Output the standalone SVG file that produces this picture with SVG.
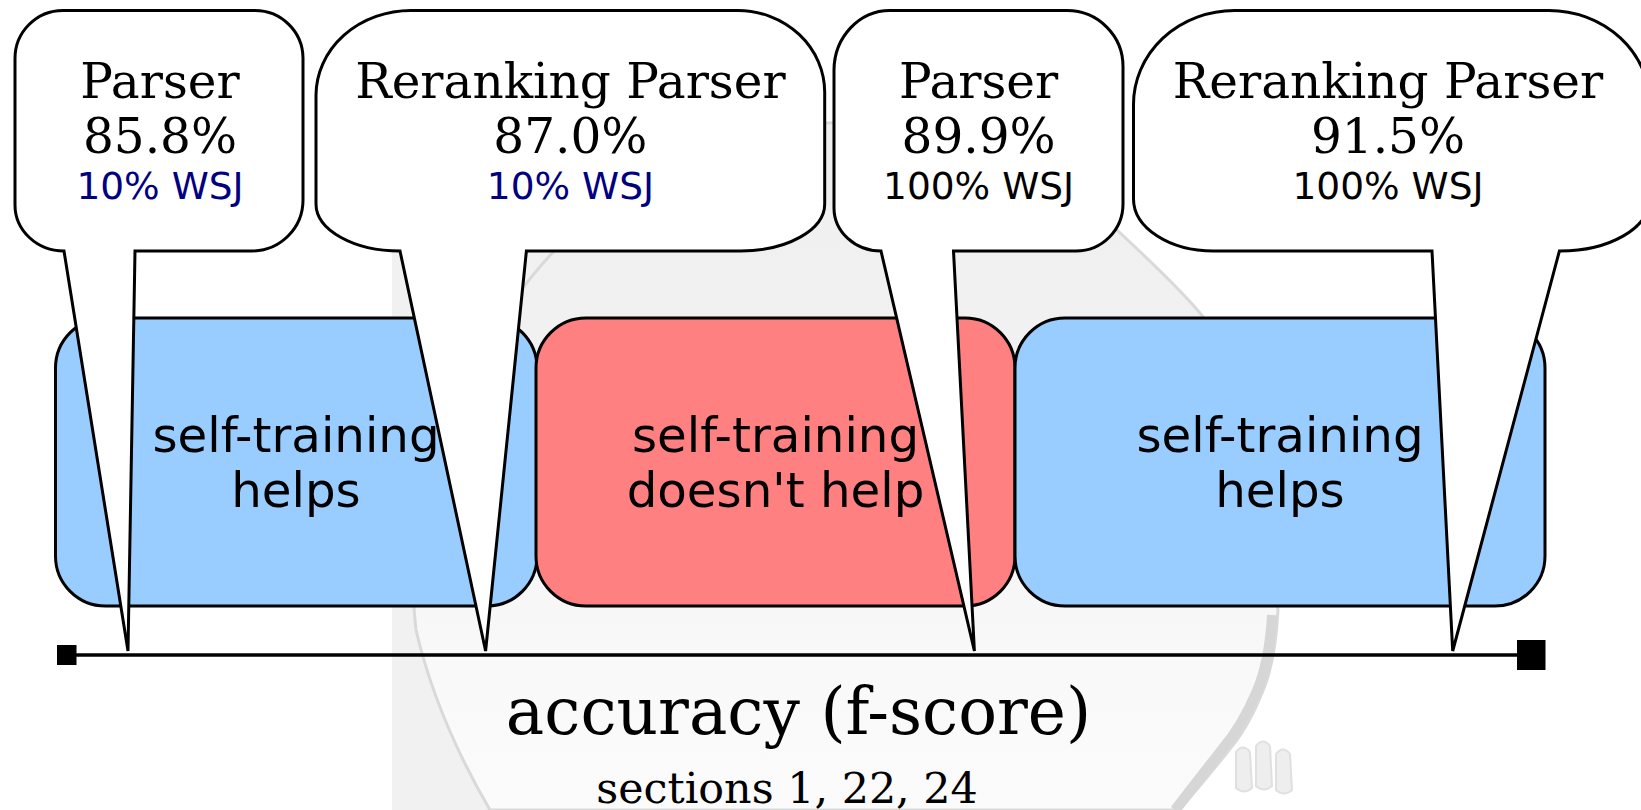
<svg xmlns="http://www.w3.org/2000/svg" width="1641" height="810" viewBox="0 0 1641 810">
  <defs>
    <style>
      .serif { font-family: "DejaVu Serif", "Liberation Serif", serif; fill: #000; text-anchor: middle; }
      .sans { font-family: "DejaVu Sans", "Liberation Sans", sans-serif; fill: #000; text-anchor: middle; }
      .callout { fill: #fff; stroke: #000; stroke-width: 3; stroke-linejoin: miter; }
      .region { stroke: #000; stroke-width: 3; }
      .helps { fill: #99ccff; }
      .nohelp { fill: #ff8080; }
      .head { font-size: 48.5px; }
      .sub { font-size: 37.5px; }
      .small-data { fill: #000080; }
      .band { font-size: 48.3px; }
    </style>
    <linearGradient id="discFill" x1="0" y1="0" x2="0" y2="1">
      <stop offset="0" stop-color="#efefef"/>
      <stop offset="0.45" stop-color="#f2f2f2"/>
      <stop offset="0.8" stop-color="#f9f9f9"/>
      <stop offset="1" stop-color="#fbfbfb"/>
    </linearGradient>
    <marker id="endSmall" markerUnits="userSpaceOnUse" markerWidth="20" markerHeight="20" refX="10" refY="10" orient="auto">
      <rect x="0" y="0" width="20" height="20" fill="#000"/>
    </marker>
    <marker id="endLarge" markerUnits="userSpaceOnUse" markerWidth="29" markerHeight="30" refX="14.5" refY="15" orient="auto">
      <rect x="0" y="0" width="29" height="30" fill="#000"/>
    </marker>
  </defs>

  <rect width="1641" height="810" fill="#fff"/>

  <!-- faded backdrop photo -->
  <g id="backdrop">
    <rect x="392" y="251" width="420" height="559" fill="#f1f1f1"/>
    <path d="M 490,810 C 455,750 430,690 416,630 C 395,470 520,140 826,123 C 960,116 1060,170 1117,230 C 1160,270 1190,300 1204,318 C 1245,400 1272,520 1278,610 C 1276,650 1270,675 1262,693 C 1252,718 1242,735 1229,750 C 1212,772 1196,790 1180,810 Z"
          fill="url(#discFill)" stroke="#d9d9d9" stroke-width="3"/>
    <!-- darker inner band along the lower right edge -->
    <path d="M 1272,615 C 1270,650 1264,675 1256,693 C 1246,716 1236,733 1223,748 C 1206,770 1190,790 1175,810"
          fill="none" stroke="#d6d6d6" stroke-width="10"/>
    <g fill="#eeeeee" stroke="#e0e0e0" stroke-width="2">
      <path d="M 1236,752 q 7,-9 14,0 l 2,36 q -8,7 -16,0 Z"/>
      <path d="M 1256,746 q 7,-9 14,0 l 2,40 q -8,7 -16,0 Z"/>
      <path d="M 1276,754 q 7,-9 14,0 l 2,36 q -8,7 -16,0 Z"/>
    </g>
  </g>

  <!-- outcome regions along the score axis -->
  <g id="region-helps-low">
    <rect class="region helps" x="55.5" y="318" width="481.5" height="288" rx="50" ry="50"/>
    <text class="sans band" x="296" y="452">self-training</text>
    <text class="sans band" x="296" y="507">helps</text>
  </g>
  <g id="region-no-help">
    <rect class="region nohelp" x="536" y="318" width="479" height="288" rx="50" ry="50"/>
    <text class="sans band" x="775.5" y="452">self-training</text>
    <text class="sans band" x="775.5" y="507">doesn't help</text>
  </g>
  <g id="region-helps-high">
    <rect class="region helps" x="1015" y="318" width="530" height="288" rx="50" ry="50"/>
    <text class="sans band" x="1280" y="452">self-training</text>
    <text class="sans band" x="1280" y="507">helps</text>
  </g>

  <!-- score axis -->
  <g id="connectors">
    <line x1="66.5" y1="655" x2="1531" y2="655" stroke="#000" stroke-width="3.5"
          marker-start="url(#endSmall)" marker-end="url(#endLarge)"/>
  </g>

  <!-- callouts pinned to the axis -->
  <g id="parser-10">
    <path class="callout" d="M 64,251 L 128,651 L 135,251 L 252,251 A 51,51 0 0 0 303,200 L 303,58 A 48,48 0 0 0 255,10.5 L 63,10.5 A 48,48 0 0 0 15,58.5 L 15,205 A 49,46 0 0 0 64,251 Z"/>
    <text class="serif head" x="160" y="98">Parser</text>
    <text class="serif head" x="160" y="153">85.8%</text>
    <text class="sans sub small-data" x="160" y="199">10% WSJ</text>
  </g>
  <g id="reranker-10">
    <path class="callout" d="M 400,251 L 485.6,651 L 526.4,251 L 741,251 A 84,47 0 0 0 824.7,204 L 824.7,92 A 87,82 0 0 0 738,10.5 L 411,10.5 A 95,85 0 0 0 316,95 L 316,204 A 84,47 0 0 0 400,251 Z"/>
    <text class="serif head" x="570.4" y="98">Reranking Parser</text>
    <text class="serif head" x="570.4" y="153">87.0%</text>
    <text class="sans sub small-data" x="570.4" y="199">10% WSJ</text>
  </g>
  <g id="parser-100">
    <path class="callout" d="M 881,251 L 974.4,651 L 953.5,251 L 1076,251 A 47,47 0 0 0 1123,204 L 1123,67 A 56,56 0 0 0 1067,10.5 L 890,10.5 A 56,60 0 0 0 834,70 L 834,208 A 47,43 0 0 0 881,251 Z"/>
    <text class="serif head" x="978.6" y="98">Parser</text>
    <text class="serif head" x="978.6" y="153">89.9%</text>
    <text class="sans sub" x="978.6" y="199">100% WSJ</text>
  </g>
  <g id="reranker-100">
    <path class="callout" d="M 1432,251 L 1452.7,651 L 1559.4,251 A 90,52 0 0 0 1650,199 L 1650,105 A 101,94 0 0 0 1549,10.5 L 1234.5,10.5 A 101,94 0 0 0 1133.5,105 L 1133.5,199 A 80,52 0 0 0 1213.5,251 Z"/>
    <text class="serif head" x="1388" y="98">Reranking Parser</text>
    <text class="serif head" x="1388" y="153">91.5%</text>
    <text class="sans sub" x="1388" y="199">100% WSJ</text>
  </g>

  <!-- axis captions -->
  <g id="axis-label">
    <text class="serif" x="798.5" y="734" font-size="64.5">accuracy (f-score)</text>
    <text class="serif" x="787" y="803" font-size="42.8">sections 1, 22, 24</text>
  </g>
</svg>
